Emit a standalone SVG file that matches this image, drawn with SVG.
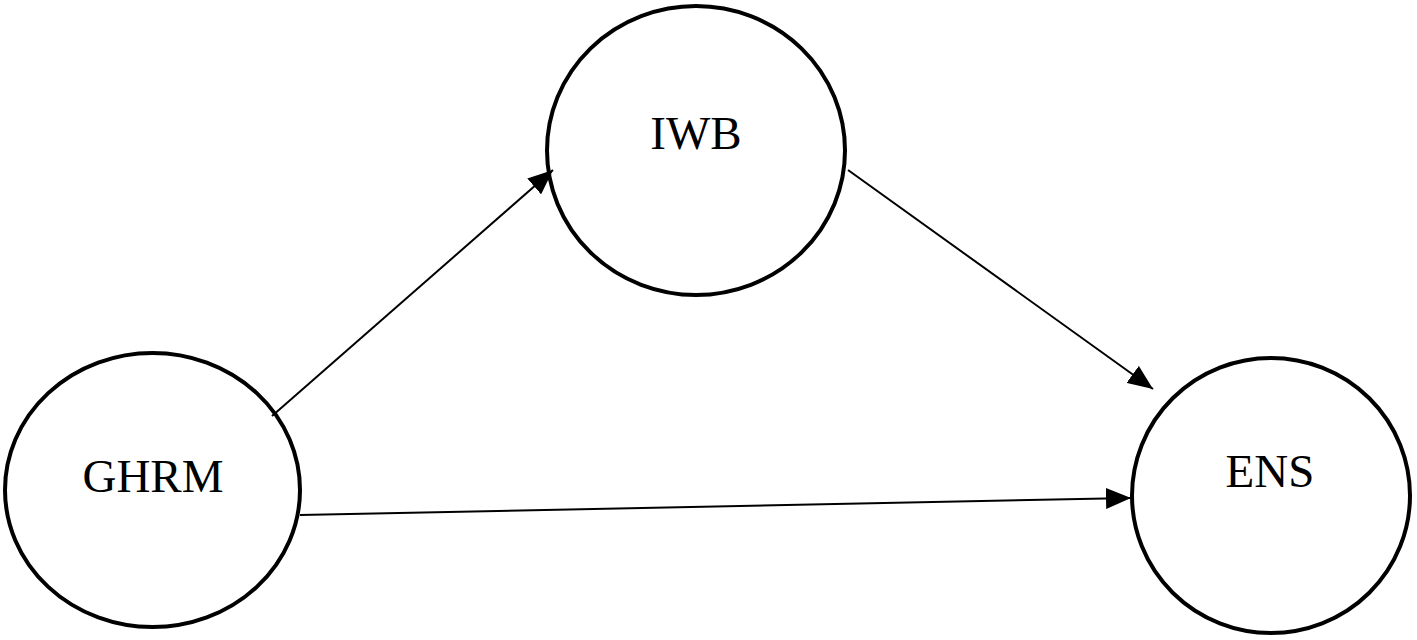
<svg xmlns="http://www.w3.org/2000/svg" width="1417" height="640" viewBox="0 0 1417 640">
<style>
.node ellipse{fill:#fff;stroke:#000;stroke-width:4}
.node text{font-family:"Liberation Serif","Times New Roman",serif;font-size:47px;fill:#000;text-anchor:middle}
.edge{stroke:#000;stroke-width:2;fill:none;marker-end:url(#arr)}
</style>
<defs>
<marker id="arr" markerUnits="userSpaceOnUse" markerWidth="25" markerHeight="21" viewBox="0 0 25 21" refX="25" refY="10.5" orient="auto">
<path d="M0,0 L25,10.5 L0,21 Z" fill="#000"/>
</marker>
</defs>
<g id="nodes">
<g id="GHRM" class="node"><ellipse cx="152.5" cy="490" rx="147.5" ry="137"/><text x="153" y="492">GHRM</text></g>
<g id="IWB" class="node"><ellipse cx="696" cy="150.5" rx="149" ry="144.5"/><text x="696" y="149">IWB</text></g>
<g id="ENS" class="node"><ellipse cx="1271" cy="495.5" rx="139" ry="137.5"/><text x="1270" y="487">ENS</text></g>
</g>
<g id="connectors">
<line class="edge" x1="272" y1="416" x2="553" y2="170"/>
<line class="edge" x1="848" y1="170" x2="1153" y2="389"/>
<line class="edge" x1="300" y1="515" x2="1131" y2="498"/>
</g>
</svg>
